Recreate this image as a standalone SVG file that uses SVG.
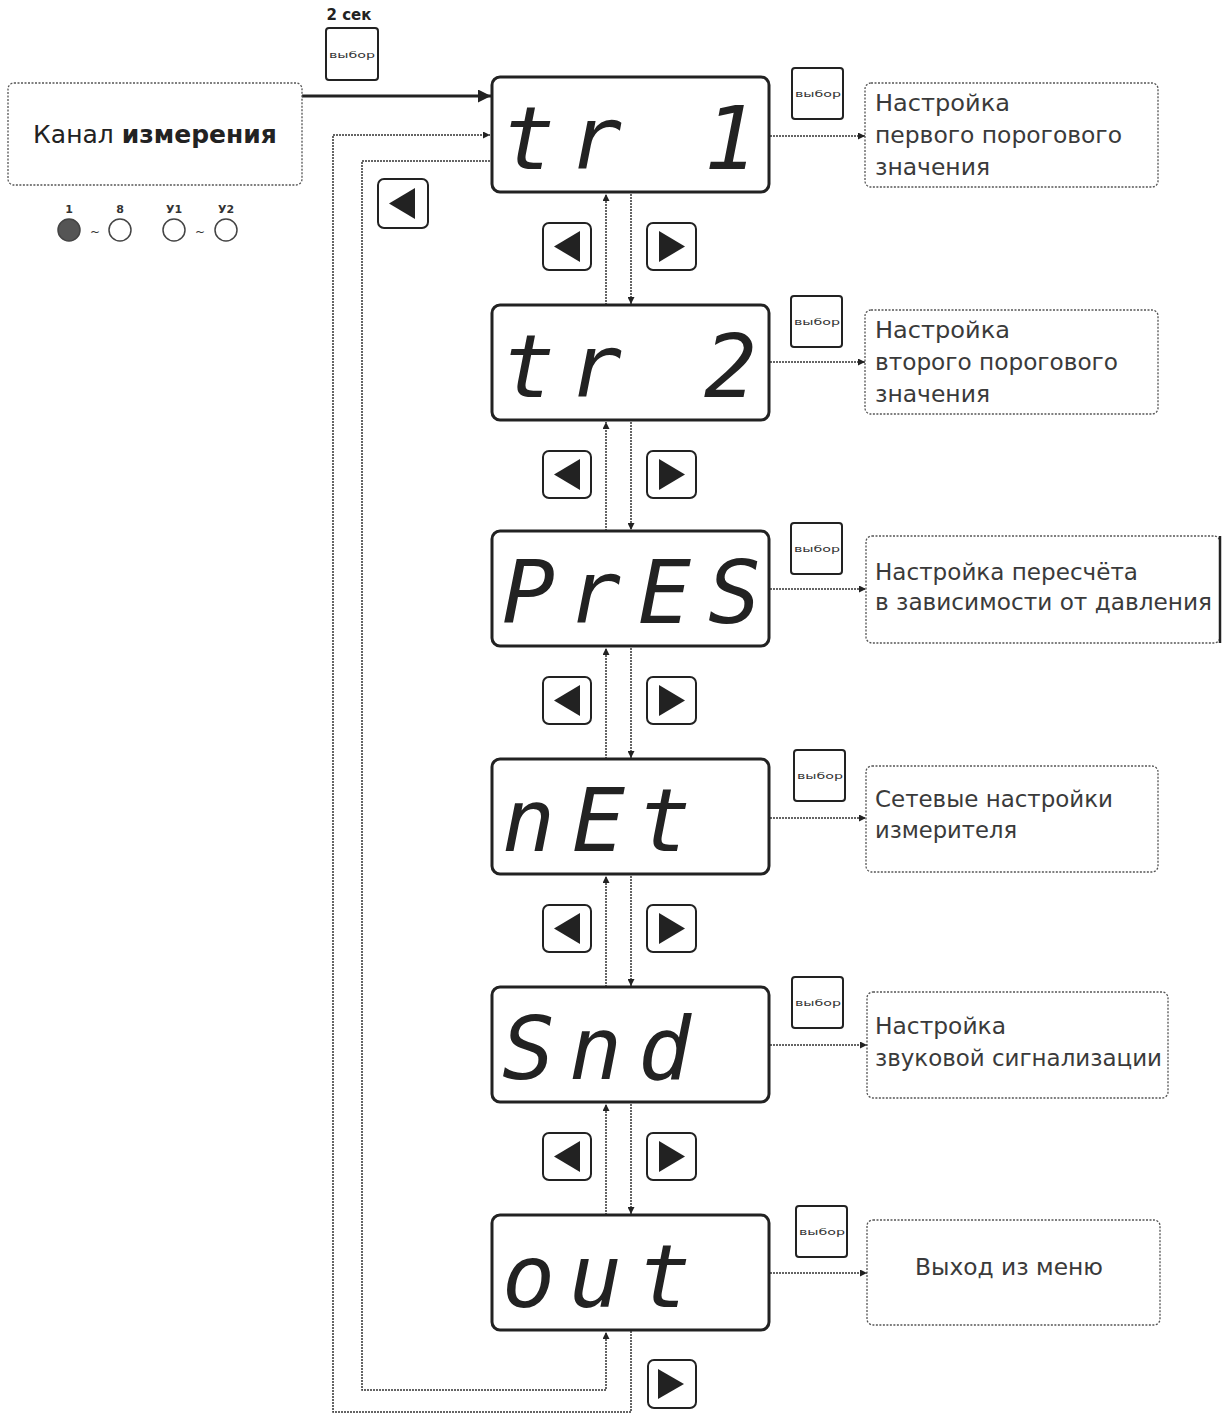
<svg xmlns="http://www.w3.org/2000/svg" width="1225" height="1413" viewBox="0 0 1225 1413">
<style>
.disp{fill:#fff;stroke:#222;stroke-width:3}
.seg{font-family:"DejaVu Sans Mono",monospace;font-style:italic;font-size:88px;fill:#222}
.btn{fill:#fff;stroke:#222;stroke-width:2}
.tri{fill:#222}
.selt{font-family:"DejaVu Sans",sans-serif;font-size:9px;fill:#333}
.desc{fill:#fff;stroke:#555;stroke-width:1.3;stroke-dasharray:2 1.5}
.dt{font-family:"DejaVu Sans",sans-serif;font-size:23px;fill:#3a3a3a}
.con{fill:none;stroke:#333;stroke-width:1.5;stroke-dasharray:2 1}
.led{stroke:#444;stroke-width:1.5}
.lbl{font-family:"DejaVu Sans",sans-serif;font-size:11px;font-weight:bold;fill:#333;text-anchor:middle}
</style>
<defs>
<marker id="ah" viewBox="0 0 10 10" refX="10" refY="5" markerWidth="9" markerHeight="7" markerUnits="userSpaceOnUse" orient="auto"><path d="M0,0 L10,5 L0,10 z" fill="#222"/></marker>
<marker id="ahb" viewBox="0 0 10 10" refX="10" refY="5" markerWidth="20" markerHeight="13" markerUnits="userSpaceOnUse" orient="auto"><path d="M0,0 L10,5 L0,10 z" fill="#222"/></marker>
</defs>
<rect width="1225" height="1413" fill="#fff"/>

<g id="connectors">
<line x1="302" y1="96" x2="491" y2="96" stroke="#222" stroke-width="3" marker-end="url(#ahb)"/>
<polyline class="con" points="631,1331 631,1412 333,1412 333,135 490,135" marker-end="url(#ah)"/>
<polyline class="con" points="490,161 362,161 362,1390 606,1390 606,1332" marker-end="url(#ah)"/>
<line class="con" x1="606" y1="305" x2="606" y2="194" marker-end="url(#ah)"/>
<line class="con" x1="631" y1="194" x2="631" y2="304" marker-end="url(#ah)"/>
<line class="con" x1="606" y1="531" x2="606" y2="422" marker-end="url(#ah)"/>
<line class="con" x1="631" y1="422" x2="631" y2="530" marker-end="url(#ah)"/>
<line class="con" x1="606" y1="759" x2="606" y2="648" marker-end="url(#ah)"/>
<line class="con" x1="631" y1="648" x2="631" y2="758" marker-end="url(#ah)"/>
<line class="con" x1="606" y1="987" x2="606" y2="876" marker-end="url(#ah)"/>
<line class="con" x1="631" y1="876" x2="631" y2="986" marker-end="url(#ah)"/>
<line class="con" x1="606" y1="1215" x2="606" y2="1104" marker-end="url(#ah)"/>
<line class="con" x1="631" y1="1104" x2="631" y2="1214" marker-end="url(#ah)"/>
<line class="con" x1="770" y1="136" x2="865" y2="136" marker-end="url(#ah)"/>
<line class="con" x1="770" y1="362" x2="865" y2="362" marker-end="url(#ah)"/>
<line class="con" x1="770" y1="589" x2="866" y2="589" marker-end="url(#ah)"/>
<line class="con" x1="770" y1="818" x2="866" y2="818" marker-end="url(#ah)"/>
<line class="con" x1="770" y1="1045" x2="867" y2="1045" marker-end="url(#ah)"/>
<line class="con" x1="770" y1="1273" x2="867" y2="1273" marker-end="url(#ah)"/>
</g>

<g id="channel">
<rect x="8" y="83" width="294" height="102" rx="6" class="desc"/>
<text x="155" y="143" text-anchor="middle" font-family="DejaVu Sans, sans-serif" font-size="25" fill="#222">Канал <tspan font-weight="bold">измерения</tspan></text>
</g>

<g id="leds">
<text class="lbl" x="69" y="213">1</text>
<text class="lbl" x="120" y="213">8</text>
<text class="lbl" x="174" y="213">У1</text>
<text class="lbl" x="226" y="213">У2</text>
<circle class="led" cx="69" cy="230" r="11" fill="#555"/>
<circle class="led" cx="120" cy="230" r="11" fill="#fff"/>
<circle class="led" cx="174" cy="230" r="11" fill="#fff"/>
<circle class="led" cx="226" cy="230" r="11" fill="#fff"/>
<text x="95" y="236" text-anchor="middle" font-family="DejaVu Sans, sans-serif" font-size="12" fill="#333">~</text>
<text x="200" y="236" text-anchor="middle" font-family="DejaVu Sans, sans-serif" font-size="12" fill="#333">~</text>
</g>

<g id="btn-2sec">
<text x="349" y="20" text-anchor="middle" font-family="DejaVu Sans, sans-serif" font-size="15" font-weight="bold" fill="#222">2 сек</text>
<rect class="btn" x="326" y="28" width="52" height="52" rx="3"/>
<text class="selt" x="329" y="58" textLength="46" lengthAdjust="spacingAndGlyphs">выбор</text>
</g>

<g id="btn-left-top">
<rect class="btn" x="378" y="179" width="50" height="49" rx="6"/>
<polygon class="tri" points="389,203.5 415,188 415,219"/>
</g>

<g id="disp-tr1">
<rect class="disp" x="492" y="77" width="277" height="115" rx="8"/>
<text class="seg" x="502 569 636 704 724" y="169">tr  1</text>
</g>
<g id="sel-1">
<rect class="btn" x="792" y="68" width="51" height="51" rx="3"/>
<text class="selt" x="795" y="97" textLength="46" lengthAdjust="spacingAndGlyphs">выбор</text>
</g>
<g id="desc-1">
<rect class="desc" x="865" y="83" width="293" height="104" rx="6"/>
<text class="dt" x="875" y="111" textLength="135" lengthAdjust="spacingAndGlyphs">Настройка</text>
<text class="dt" x="875" y="143" textLength="247" lengthAdjust="spacingAndGlyphs">первого порогового</text>
<text class="dt" x="875" y="175" textLength="115" lengthAdjust="spacingAndGlyphs">значения</text>
</g>
<g id="nav-1">
<rect class="btn" x="543" y="223" width="48" height="47" rx="6"/>
<polygon class="tri" points="554,246.5 580,231 580,262"/>
<rect class="btn" x="647" y="223" width="49" height="47" rx="6"/>
<polygon class="tri" points="685,246.5 659,231 659,262"/>
</g>

<g id="disp-tr2">
<rect class="disp" x="492" y="305" width="277" height="115" rx="8"/>
<text class="seg" x="502 569 636 704 704" y="397">tr  2</text>
</g>
<g id="sel-2">
<rect class="btn" x="791" y="296" width="51" height="51" rx="3"/>
<text class="selt" x="794" y="325" textLength="46" lengthAdjust="spacingAndGlyphs">выбор</text>
</g>
<g id="desc-2">
<rect class="desc" x="865" y="310" width="293" height="104" rx="6"/>
<text class="dt" x="875" y="338" textLength="135" lengthAdjust="spacingAndGlyphs">Настройка</text>
<text class="dt" x="875" y="370" textLength="243" lengthAdjust="spacingAndGlyphs">второго порогового</text>
<text class="dt" x="875" y="402" textLength="115" lengthAdjust="spacingAndGlyphs">значения</text>
</g>
<g id="nav-2">
<rect class="btn" x="543" y="451" width="48" height="47" rx="6"/>
<polygon class="tri" points="554,474.5 580,459 580,490"/>
<rect class="btn" x="647" y="451" width="49" height="47" rx="6"/>
<polygon class="tri" points="685,474.5 659,459 659,490"/>
</g>

<g id="disp-pres">
<rect class="disp" x="492" y="531" width="277" height="115" rx="8"/>
<text class="seg" x="502 568 638 708" y="623">PrES</text>
</g>
<g id="sel-3">
<rect class="btn" x="791" y="523" width="51" height="51" rx="3"/>
<text class="selt" x="794" y="552" textLength="46" lengthAdjust="spacingAndGlyphs">выбор</text>
</g>
<g id="desc-3">
<rect class="desc" x="866" y="536" width="354" height="107" rx="6"/>
<line x1="1220" y1="536" x2="1220" y2="643" stroke="#222" stroke-width="2.5"/>
<text class="dt" x="875" y="580" textLength="263" lengthAdjust="spacingAndGlyphs">Настройка пересчёта</text>
<text class="dt" x="875" y="610" textLength="337" lengthAdjust="spacingAndGlyphs">в зависимости от давления</text>
</g>
<g id="nav-3">
<rect class="btn" x="543" y="677" width="48" height="47" rx="6"/>
<polygon class="tri" points="554,700.5 580,685 580,716"/>
<rect class="btn" x="647" y="677" width="49" height="47" rx="6"/>
<polygon class="tri" points="685,700.5 659,685 659,716"/>
</g>

<g id="disp-net">
<rect class="disp" x="492" y="759" width="277" height="115" rx="8"/>
<text class="seg" x="502 572 638" y="851">nEt</text>
</g>
<g id="sel-4">
<rect class="btn" x="794" y="750" width="51" height="51" rx="3"/>
<text class="selt" x="797" y="779" textLength="46" lengthAdjust="spacingAndGlyphs">выбор</text>
</g>
<g id="desc-4">
<rect class="desc" x="866" y="766" width="292" height="106" rx="6"/>
<text class="dt" x="875" y="807" textLength="238" lengthAdjust="spacingAndGlyphs">Сетевые настройки</text>
<text class="dt" x="875" y="838" textLength="142" lengthAdjust="spacingAndGlyphs">измерителя</text>
</g>
<g id="nav-4">
<rect class="btn" x="543" y="905" width="48" height="47" rx="6"/>
<polygon class="tri" points="554,928.5 580,913 580,944"/>
<rect class="btn" x="647" y="905" width="49" height="47" rx="6"/>
<polygon class="tri" points="685,928.5 659,913 659,944"/>
</g>

<g id="disp-snd">
<rect class="disp" x="492" y="987" width="277" height="115" rx="8"/>
<text class="seg" x="502 569 638" y="1079">Snd</text>
</g>
<g id="sel-5">
<rect class="btn" x="792" y="977" width="51" height="51" rx="3"/>
<text class="selt" x="795" y="1006" textLength="46" lengthAdjust="spacingAndGlyphs">выбор</text>
</g>
<g id="desc-5">
<rect class="desc" x="867" y="992" width="301" height="106" rx="6"/>
<text class="dt" x="875" y="1034" textLength="131" lengthAdjust="spacingAndGlyphs">Настройка</text>
<text class="dt" x="875" y="1066" textLength="287" lengthAdjust="spacingAndGlyphs">звуковой сигнализации</text>
</g>
<g id="nav-5">
<rect class="btn" x="543" y="1133" width="48" height="47" rx="6"/>
<polygon class="tri" points="554,1156.5 580,1141 580,1172"/>
<rect class="btn" x="647" y="1133" width="49" height="47" rx="6"/>
<polygon class="tri" points="685,1156.5 659,1141 659,1172"/>
</g>

<g id="disp-out">
<rect class="disp" x="492" y="1215" width="277" height="115" rx="8"/>
<text class="seg" x="502 569 638" y="1307">out</text>
</g>
<g id="sel-6">
<rect class="btn" x="796" y="1206" width="51" height="51" rx="3"/>
<text class="selt" x="799" y="1235" textLength="46" lengthAdjust="spacingAndGlyphs">выбор</text>
</g>
<g id="desc-6">
<rect class="desc" x="867" y="1220" width="293" height="105" rx="6"/>
<text class="dt" x="915" y="1275" textLength="188" lengthAdjust="spacingAndGlyphs">Выход из меню</text>
</g>
<g id="btn-right-bottom">
<rect class="btn" x="648" y="1360" width="48" height="48" rx="6"/>
<polygon class="tri" points="684,1384 658,1369 658,1399"/>
</g>
</svg>
